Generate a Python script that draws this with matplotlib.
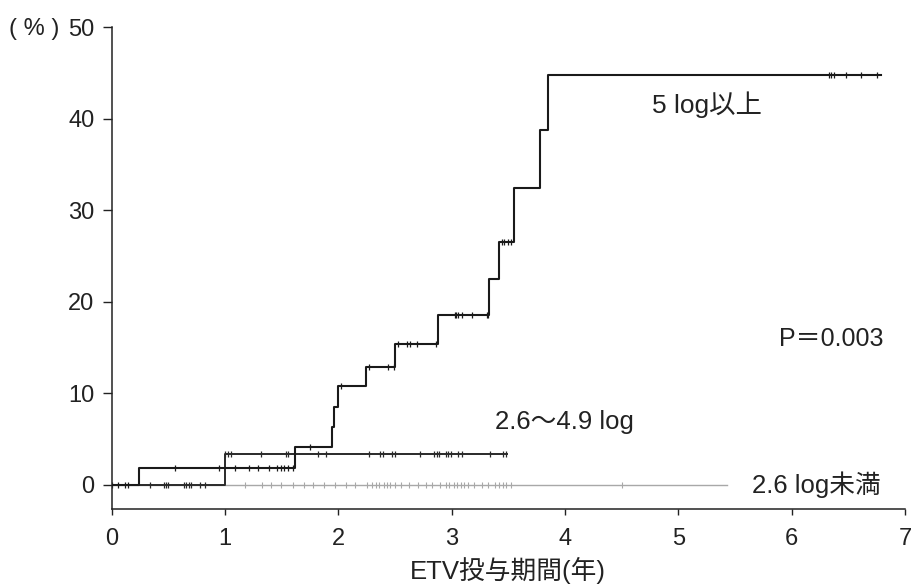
import numpy as np
import matplotlib
matplotlib.use("Agg")
import matplotlib.pyplot as plt

plt.rcParams['font.family'] = ['Liberation Sans', 'Noto Sans CJK JP', 'DejaVu Sans']

# ---- data ----
t_hi = [0, 0.245, 1.62, 1.944, 1.965, 2.0, 2.245, 2.5, 2.88, 3.33, 3.42, 3.55, 3.78, 3.85, 6.79]
y_hi = [0, 1.8, 4.1, 6.3, 8.5, 10.75, 12.9, 15.4, 18.5, 22.5, 26.5, 32.4, 38.8, 44.8, 44.8]
c_hi = [0.06, 0.12, 0.145, 0.56, 0.95, 1.09, 1.21, 1.29, 1.39, 1.46, 1.49, 1.52, 1.56, 1.60,
        1.75, 2.02, 2.27, 2.44, 2.49, 2.53, 2.61, 2.63, 2.69, 2.86,
        3.03, 3.04, 3.06, 3.09, 3.18, 3.31, 3.32, 3.44, 3.46, 3.50, 3.52,
        6.33, 6.35, 6.37, 6.48, 6.61, 6.75]

t_mid = [0, 1.0, 3.49]
y_mid = [0, 3.4, 3.4]
c_mid = [0.003, 0.34, 0.46, 0.48, 0.50, 0.64, 0.66, 0.68, 0.70, 0.78, 0.82,
         1.0, 1.03, 1.05, 1.32, 1.54, 1.56, 1.82, 1.89, 2.27, 2.37, 2.39, 2.47, 2.50,
         2.72, 2.84, 2.87, 2.89, 2.95, 2.97, 2.99, 3.06, 3.09, 3.34, 3.45, 3.48]

t_lo = [0, 5.43]
y_lo = [0, 0]
c_lo = [1.18, 1.33, 1.41, 1.49, 1.60, 1.70, 1.78, 1.87, 1.97, 2.07, 2.15, 2.25, 2.30, 2.33,
        2.36, 2.40, 2.43, 2.46, 2.50, 2.55, 2.62, 2.70, 2.77, 2.83, 2.90, 2.95, 2.98, 3.02,
        3.05, 3.08, 3.11, 3.14, 3.20, 3.27, 3.32, 3.38, 3.42, 3.45, 3.48, 3.52, 4.50]

x_ticks = [0, 1, 2, 3, 4, 5, 6, 7]
y_ticks = [0, 10, 20, 30, 40, 50]


def step_value(times, values, x):
    idx = np.searchsorted(times, x, side='right') - 1
    return np.asarray(values)[np.clip(idx, 0, len(values) - 1)]


INK = '#222222'
fig = plt.figure(figsize=(9.11, 5.87), dpi=100)
ax = fig.add_axes([0.1226, 0.1329, 0.8708, 0.8211])

# lowest group (grey)
ax.step(t_lo, y_lo, where='post', color='#a8a8a8', lw=1.0, zorder=2)
ax.plot(c_lo, step_value(t_lo, y_lo, c_lo), ls='none', marker='|', ms=4,
        mew=0.8, color='#a8a8a8', zorder=2)

# middle group
ax.step(t_mid, y_mid, where='post', color='#2a2a2a', lw=1.4, zorder=3)
ax.plot(c_mid, step_value(t_mid, y_mid, c_mid), ls='none', marker='|', ms=5,
        mew=0.9, color='#2a2a2a', zorder=3)

# highest group
ax.step(t_hi, y_hi, where='post', color='#1a1a1a', lw=1.5, zorder=4)
ax.plot(c_hi, step_value(t_hi, y_hi, c_hi), ls='none', marker='|', ms=5,
        mew=0.9, color='#1a1a1a', zorder=4)

ax.set_xlim(0, 7)
ax.set_ylim(-2.65, 50)
ax.set_xticks(x_ticks)
ax.set_yticks(y_ticks)
ax.tick_params(labelsize=17, colors=INK, direction='out', width=1)
ax.tick_params(axis='x', length=4, pad=10)
ax.tick_params(axis='y', length=6.5, pad=6)
ax.spines['top'].set_visible(False)
ax.spines['right'].set_visible(False)
for s in ('left', 'bottom'):
    ax.spines[s].set_color(INK)
    ax.spines[s].set_linewidth(1.1)

ax.set_xlabel('ETV投与期間(年)', fontsize=18.5, color=INK, labelpad=5)

ax.text(4.77, 41.5, '5 log以上', fontsize=19, color=INK, va='center', ha='left')
ax.text(3.38, 6.9, '2.6～4.9 log', fontsize=18.5, color=INK, va='center', ha='left')
ax.text(5.65, 0.0, '2.6 log未満', fontsize=18.5, color=INK, va='center', ha='left')
ax.text(5.89, 15.9, 'P＝0.003', fontsize=18, color=INK, va='center', ha='left')

fig.text(9 / 911, 1 - 29 / 587, '( % )', fontsize=17, color=INK, va='center', ha='left')

fig.savefig('out.png', dpi=100)
